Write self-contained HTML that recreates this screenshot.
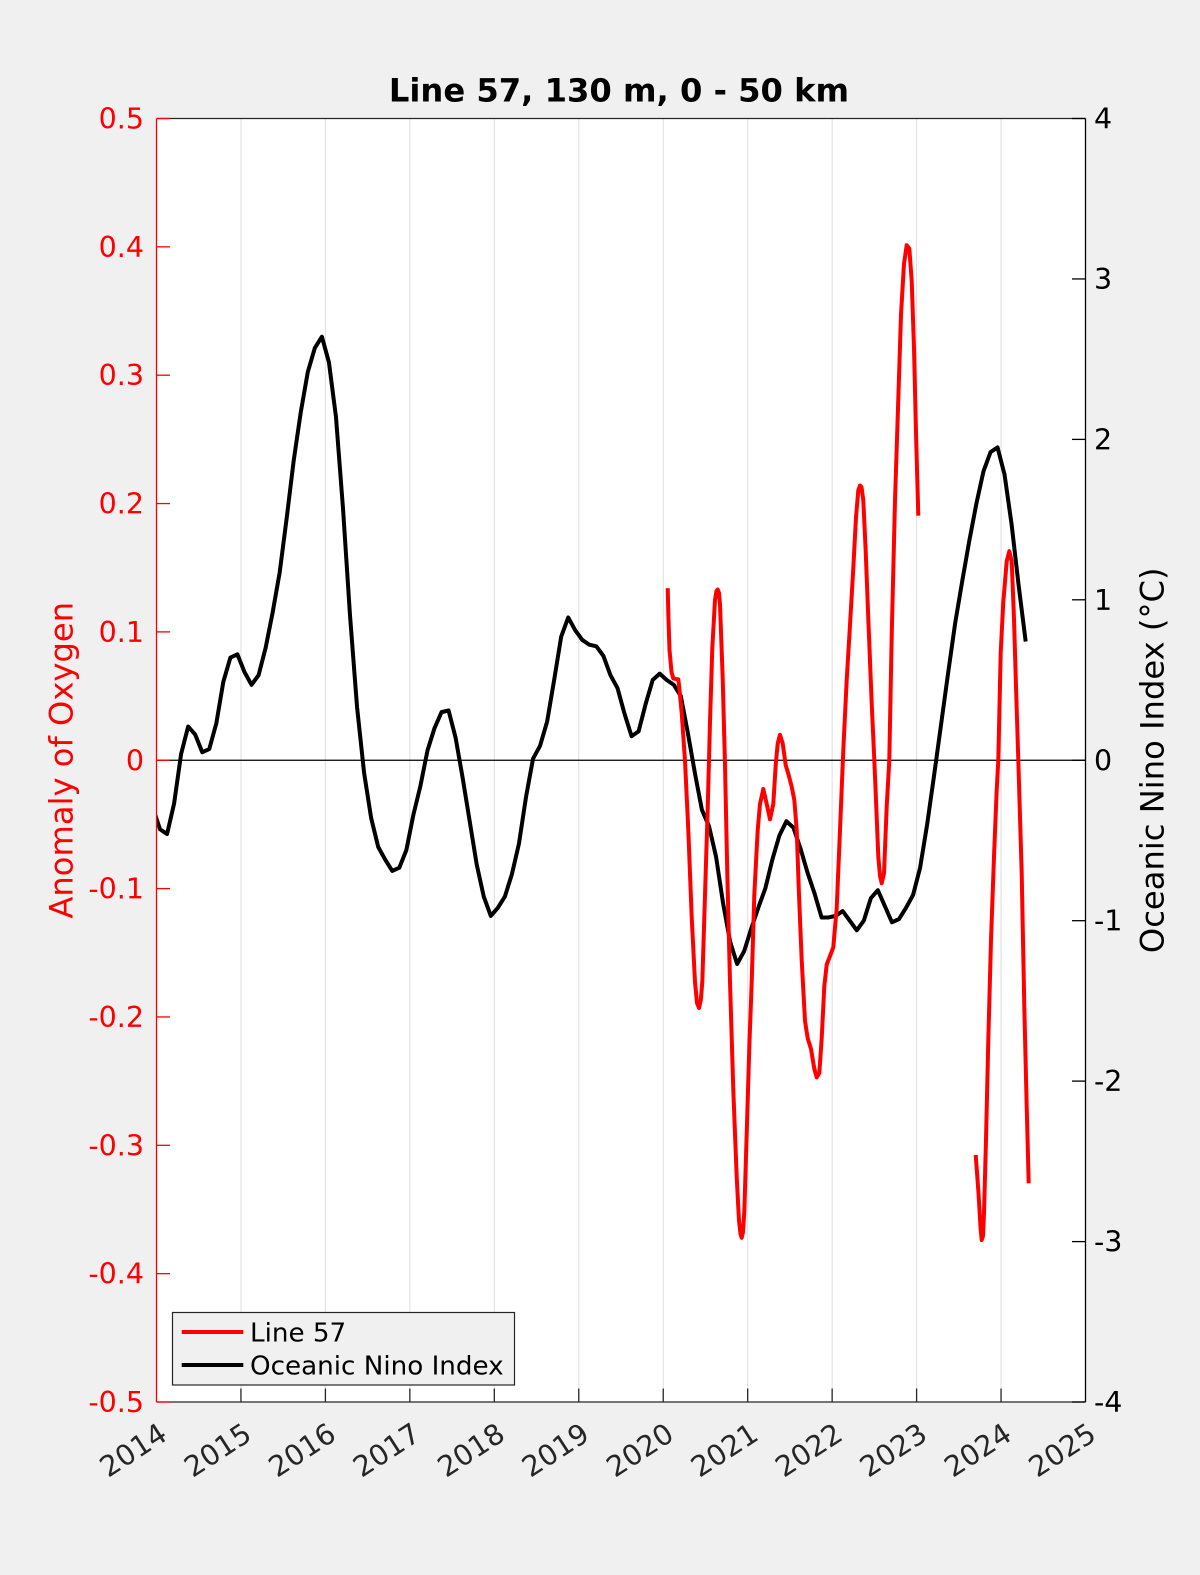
<!DOCTYPE html>
<html>
<head>
<meta charset="utf-8">
<style>
  html, body { margin: 0; padding: 0; background: #f0f0f0; }
  svg { display: block; }
  text { font-family: "DejaVu Sans", "Liberation Sans", sans-serif; }
</style>
</head>
<body>
<svg width="1200" height="1575" viewBox="0 0 1200 1575" xmlns="http://www.w3.org/2000/svg">
  <defs>
    <clipPath id="plotclip">
      <rect x="156.5" y="118.5" width="929" height="1283.5"/>
    </clipPath>
  </defs>

  <rect x="0" y="0" width="1200" height="1575" fill="#f0f0f0"/>
  <rect x="156.5" y="118.5" width="929" height="1283.5" fill="#ffffff"/>

  <!-- vertical grid lines -->
  <g stroke="#dedede" stroke-width="1">
    <line x1="240.95" y1="118.5" x2="240.95" y2="1402"/>
    <line x1="325.4" y1="118.5" x2="325.4" y2="1402"/>
    <line x1="409.86" y1="118.5" x2="409.86" y2="1402"/>
    <line x1="494.3" y1="118.5" x2="494.3" y2="1402"/>
    <line x1="578.77" y1="118.5" x2="578.77" y2="1402"/>
    <line x1="663.23" y1="118.5" x2="663.23" y2="1402"/>
    <line x1="747.68" y1="118.5" x2="747.68" y2="1402"/>
    <line x1="832.14" y1="118.5" x2="832.14" y2="1402"/>
    <line x1="916.6" y1="118.5" x2="916.6" y2="1402"/>
    <line x1="1001.05" y1="118.5" x2="1001.05" y2="1402"/>
  </g>

  <!-- zero line -->
  <line x1="156.5" y1="760.25" x2="1085.5" y2="760.25" stroke="#000" stroke-width="1.2"/>

  <g clip-path="url(#plotclip)">
    <!-- Oceanic Nino Index (black) -->
    <polyline fill="none" stroke="#000" stroke-width="4" stroke-linejoin="round" stroke-linecap="butt"
      points="152.98,808.38 160.02,829.24 167.06,834.05 174.09,803.57 181.13,753.83 188.17,726.56 195.21,734.58 202.25,752.23
      209.28,749.02 216.32,723.35 223.36,681.63 230.40,657.57 237.44,654.36 244.47,672.01 251.51,684.84 258.55,675.22
      265.59,647.94 272.62,612.65 279.66,572.54 286.70,517.99 293.74,460.23 300.78,412.10 307.81,371.99 314.85,347.92
      321.89,336.69 328.93,362.34 335.97,416.91 343.00,508.36 350.04,615.85 357.08,707.30 364.12,773.09 371.15,818.01
      378.19,846.89 385.23,859.72 392.27,870.95 399.31,867.74 406.34,850.10 413.38,814.80 420.42,785.92 427.46,750.62
      434.50,728.16 441.53,712.12 448.57,710.51 455.61,737.79 462.65,777.90 469.68,821.22 476.72,864.54 483.76,896.62
      490.80,915.88 497.84,907.85 504.87,896.62 511.91,874.16 518.95,843.68 525.99,797.15 533.03,758.65 540.06,745.81
      547.10,721.74 554.14,680.03 561.18,636.71 568.21,617.46 575.25,630.29 582.29,639.92 589.33,644.73 596.37,646.34
      603.40,655.96 610.44,675.22 617.48,688.05 624.52,713.72 631.56,736.18 638.59,731.37 645.63,704.10 652.67,680.03
      659.71,673.67 666.74,680.03 673.78,684.84 680.82,696.07 687.86,732.98 694.90,773.09 701.93,809.99 708.97,826.03
      716.01,856.51 723.05,903.04 730.09,941.55 737.12,964.01 744.16,951.17 751.20,928.71 758.24,907.85 765.27,888.60
      772.31,859.72 779.35,835.66 786.39,821.22 793.43,827.63 800.46,848.49 807.50,872.56 814.54,893.42 821.58,917.48
      828.62,917.48 835.65,915.88 842.69,911.06 849.73,920.69 856.77,930.32 863.80,920.69 870.84,898.23 877.88,890.21
      884.92,906.25 891.96,922.29 898.99,919.09 906.03,907.85 913.07,895.02 920.11,867.74 927.15,824.43 934.18,774.69
      941.22,723.35 948.26,672.01 955.30,622.27 962.33,580.56 969.37,540.45 976.41,503.55 983.45,471.46 990.49,452.21
      997.52,447.39 1004.56,474.67 1011.60,524.40 1018.64,585.37 1025.68,641.52"/>

    <!-- Line 57 (red), segment 1 -->
    <polyline fill="none" stroke="#ff0000" stroke-width="4" stroke-linejoin="round" stroke-linecap="butt"
      points="667.7,588.2 668.5,620 669.5,650 671.5,672 673.3,678.4 676,679 678.3,679.3 679.5,690 681.7,713 685,760.8
      688.3,830 691.7,917 695,982 697,1003 699,1008 700.8,1000 702.3,982 705,895 707.7,808.5 710,721.8 712.3,648
      715,600 716.5,591 717.7,589.5 719,593 720,604.7 722.7,678.4 725,765 727.3,873.6 730,982 733.3,1090 736.7,1177
      739,1220.5 740.5,1234 741.7,1237.8 743,1232 744.3,1211.8 746.7,1133.7 749.3,1047 751.7,982 754.3,895 757.7,830
      760,804 763.3,789 766.7,804 770,819.3 773.3,804 775.7,765 777.7,743.5 780,734.8 782.7,743.5 785.7,765 788.3,773.8
      791.7,786.8 794.3,799.8 796.7,830 799,895 801.7,960 805,1021 807.7,1038.3 811,1049 814.3,1068.7 816.7,1077.4
      819.3,1073 821.7,1038.3 824.3,986.3 826.7,964.6 830,956 833.3,947.3 836.7,908.2 840,830 843.3,750 846.7,680
      850,625 853.3,568 856,517.4 858.3,490.3 860,485.5 861.5,487 863.3,500.5 865.7,551 868.3,618.8 871.7,703.3
      874.3,760 876,800 878.3,856.7 880,876 881.7,883.3 884,873.3 886.7,806.7 889.3,760 891.7,635.7 895,500.5
      898.3,399 901,314.5 904,263.8 906.7,245.2 909.3,248.6 911.7,280.7 914,348.3 916,432.8 918.3,515.7"/>

    <!-- Line 57 (red), segment 2 -->
    <polyline fill="none" stroke="#ff0000" stroke-width="4" stroke-linejoin="round" stroke-linecap="butt"
      points="975.7,1155 978.3,1190 980.7,1230 981.7,1240 983,1236 984,1213.3 986,1140 988.3,1040 991,940 994,856.7
      996.7,790 998.3,760 1000.7,652.6 1003.3,601.9 1006.7,561.3 1009.3,551.2 1011.7,561.3 1014,618.8 1016,686.4
      1018.3,760 1021.7,873.3 1024.3,1006.7 1026.7,1106.7 1028.7,1183.3"/>
  </g>

  <!-- axes box -->
  <line x1="156.5" y1="118.5" x2="1085.5" y2="118.5" stroke="#262626" stroke-width="1.3"/>
  <line x1="156.5" y1="1402" x2="1085.5" y2="1402" stroke="#262626" stroke-width="1.3"/>
  <line x1="1085.5" y1="118.5" x2="1085.5" y2="1402" stroke="#000" stroke-width="1.3"/>

  <!-- bottom ticks -->
  <g stroke="#262626" stroke-width="1.3">
    <line x1="240.95" y1="1402" x2="240.95" y2="1388.5"/>
    <line x1="325.4" y1="1402" x2="325.4" y2="1388.5"/>
    <line x1="409.86" y1="1402" x2="409.86" y2="1388.5"/>
    <line x1="494.3" y1="1402" x2="494.3" y2="1388.5"/>
    <line x1="578.77" y1="1402" x2="578.77" y2="1388.5"/>
    <line x1="663.23" y1="1402" x2="663.23" y2="1388.5"/>
    <line x1="747.68" y1="1402" x2="747.68" y2="1388.5"/>
    <line x1="832.14" y1="1402" x2="832.14" y2="1388.5"/>
    <line x1="916.6" y1="1402" x2="916.6" y2="1388.5"/>
    <line x1="1001.05" y1="1402" x2="1001.05" y2="1388.5"/>
  </g>

  <!-- right ticks -->
  <g stroke="#000" stroke-width="1.3">
    <line x1="1085.5" y1="118.5" x2="1072" y2="118.5"/>
    <line x1="1085.5" y1="278.94" x2="1072" y2="278.94"/>
    <line x1="1085.5" y1="439.4" x2="1072" y2="439.4"/>
    <line x1="1085.5" y1="599.8" x2="1072" y2="599.8"/>
    <line x1="1085.5" y1="760.25" x2="1072" y2="760.25"/>
    <line x1="1085.5" y1="920.7" x2="1072" y2="920.7"/>
    <line x1="1085.5" y1="1081.1" x2="1072" y2="1081.1"/>
    <line x1="1085.5" y1="1241.6" x2="1072" y2="1241.6"/>
    <line x1="1085.5" y1="1402" x2="1072" y2="1402"/>
  </g>

  <!-- left axis & ticks (red) -->
  <g stroke="#ff0000" stroke-width="1.3">
    <line x1="156.5" y1="118.5" x2="156.5" y2="1402"/>
    <line x1="156.5" y1="118.5" x2="170" y2="118.5"/>
    <line x1="156.5" y1="246.85" x2="170" y2="246.85"/>
    <line x1="156.5" y1="375.2" x2="170" y2="375.2"/>
    <line x1="156.5" y1="503.55" x2="170" y2="503.55"/>
    <line x1="156.5" y1="631.9" x2="170" y2="631.9"/>
    <line x1="156.5" y1="760.25" x2="170" y2="760.25"/>
    <line x1="156.5" y1="888.6" x2="170" y2="888.6"/>
    <line x1="156.5" y1="1016.95" x2="170" y2="1016.95"/>
    <line x1="156.5" y1="1145.3" x2="170" y2="1145.3"/>
    <line x1="156.5" y1="1273.65" x2="170" y2="1273.65"/>
    <line x1="156.5" y1="1402" x2="170" y2="1402"/>
  </g>

  <!-- left tick labels -->
  <g fill="#ff0000" font-size="28.5" text-anchor="end">
    <text x="144" y="128.5">0.5</text>
    <text x="144" y="256.85">0.4</text>
    <text x="144" y="385.2">0.3</text>
    <text x="144" y="513.55">0.2</text>
    <text x="144" y="641.9">0.1</text>
    <text x="144" y="770.25">0</text>
    <text x="144" y="898.6">-0.1</text>
    <text x="144" y="1026.95">-0.2</text>
    <text x="144" y="1155.3">-0.3</text>
    <text x="144" y="1283.65">-0.4</text>
    <text x="144" y="1412">-0.5</text>
  </g>

  <!-- right tick labels -->
  <g fill="#000" font-size="28.5" text-anchor="start">
    <text x="1094" y="128.5">4</text>
    <text x="1094" y="288.94">3</text>
    <text x="1094" y="449.4">2</text>
    <text x="1094" y="609.8">1</text>
    <text x="1094" y="770.25">0</text>
    <text x="1094" y="930.7">-1</text>
    <text x="1094" y="1091.1">-2</text>
    <text x="1094" y="1251.6">-3</text>
    <text x="1094" y="1412">-4</text>
  </g>

  <!-- x tick labels (rotated) -->
  <g fill="#262626" font-size="28.5" text-anchor="end">
    <text x="169" y="1438.6" transform="rotate(-33 169 1438.6)">2014</text>
    <text x="253.45" y="1438.6" transform="rotate(-33 253.45 1438.6)">2015</text>
    <text x="337.9" y="1438.6" transform="rotate(-33 337.9 1438.6)">2016</text>
    <text x="422.36" y="1438.6" transform="rotate(-33 422.36 1438.6)">2017</text>
    <text x="506.8" y="1438.6" transform="rotate(-33 506.8 1438.6)">2018</text>
    <text x="591.27" y="1438.6" transform="rotate(-33 591.27 1438.6)">2019</text>
    <text x="675.73" y="1438.6" transform="rotate(-33 675.73 1438.6)">2020</text>
    <text x="760.18" y="1438.6" transform="rotate(-33 760.18 1438.6)">2021</text>
    <text x="844.64" y="1438.6" transform="rotate(-33 844.64 1438.6)">2022</text>
    <text x="929.1" y="1438.6" transform="rotate(-33 929.1 1438.6)">2023</text>
    <text x="1013.55" y="1438.6" transform="rotate(-33 1013.55 1438.6)">2024</text>
    <text x="1098" y="1438.6" transform="rotate(-33 1098 1438.6)">2025</text>
  </g>

  <!-- axis labels -->
  <text x="72.5" y="760.25" transform="rotate(-90 72.5 760.25)" fill="#ff0000" font-size="32.2" text-anchor="middle">Anomaly of Oxygen</text>
  <text x="1163.5" y="760.25" transform="rotate(-90 1163.5 760.25)" fill="#000" font-size="32.2" text-anchor="middle">Oceanic Nino Index (°C)</text>

  <!-- title -->
  <text x="619" y="101.5" fill="#000" font-size="32.2" font-weight="bold" text-anchor="middle">Line 57, 130 m, 0 - 50 km</text>

  <!-- legend -->
  <rect x="172.5" y="1312.5" width="342" height="72.5" fill="#f0f0f0" stroke="#262626" stroke-width="1.2"/>
  <line x1="181.7" y1="1332" x2="243.3" y2="1332" stroke="#ff0000" stroke-width="4"/>
  <line x1="181.7" y1="1365" x2="243.3" y2="1365" stroke="#000" stroke-width="4"/>
  <text x="250" y="1341.7" fill="#000" font-size="26.2">Line 57</text>
  <text x="250" y="1374.3" fill="#000" font-size="26.2">Oceanic Nino Index</text>
</svg>
</body>
</html>
